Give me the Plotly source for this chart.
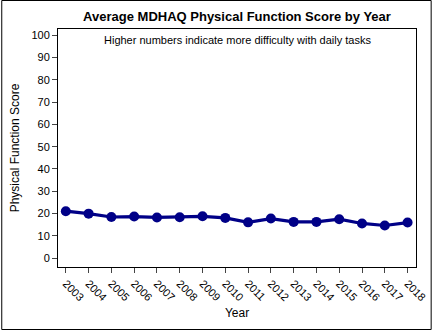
import plotly.graph_objects as go

years = list(range(2003, 2019))
scores = [21.1, 20.0, 18.5, 18.7, 18.3, 18.4, 18.8, 18.1, 16.1, 17.8, 16.3, 16.3, 17.5, 15.6, 14.7, 16.0]
y_ticks = list(range(0, 101, 10))

W, H = 440, 330
ml, mr, mt, mb = 58, 16, 29, 63
pw = W - ml - mr
ph = H - mt - mb

font = "Arial, Liberation Sans, sans-serif"

fig = go.Figure()
fig.add_trace(go.Scatter(
    x=years, y=scores, mode="lines+markers",
    line=dict(color="#000087", width=3.2),
    marker=dict(color="#000087", size=10),
    showlegend=False,
))

fig.update_layout(
    width=W, height=H,
    margin=dict(l=ml, r=mr, t=mt, b=mb),
    paper_bgcolor="white", plot_bgcolor="white",
    font=dict(family=font, size=11, color="black"),
    title=dict(text="<b>Average MDHAQ Physical Function Score by Year</b>",
               x=0.5, xref="paper", xanchor="center", y=1 - 16 / H, yanchor="middle",
               font=dict(size=13, family=font, color="black")),
    xaxis=dict(range=[2002.657, 2018.37], tickmode="array", tickvals=years,
               ticktext=[str(y) for y in years], tickangle=45,
               ticks="outside", ticklen=5, tickcolor="#444",
               showline=True, linecolor="black", linewidth=1, mirror=True,
               showgrid=False, zeroline=False,
               title=dict(text="Year", font=dict(size=12, family=font), standoff=6),
               tickfont=dict(size=11, family=font)),
    yaxis=dict(range=[-3.9, 102.7], tickmode="array", tickvals=y_ticks,
               ticks="outside", ticklen=5, tickcolor="#444",
               showline=True, linecolor="black", linewidth=1, mirror=True,
               showgrid=False, zeroline=False,
               title=dict(text="Physical Function Score", font=dict(size=12, family=font), standoff=9),
               tickfont=dict(size=11, family=font)),
    annotations=[dict(text="Higher numbers indicate more difficulty with daily tasks",
                      x=0.5, xref="paper", y=1 - (40 - mt) / ph, yref="paper", yanchor="middle",
                      showarrow=False, font=dict(size=11, family=font))],
    shapes=[dict(type="rect", xref="paper", yref="paper",
                 x0=(-ml + 0.5) / pw, x1=(W - ml - 0.5) / pw,
                 y0=(-mb + 0.5) / ph, y1=(H - mb - 0.5) / ph,
                 line=dict(color="black", width=1), layer="above")],
)

fig.write_html("out.html")
